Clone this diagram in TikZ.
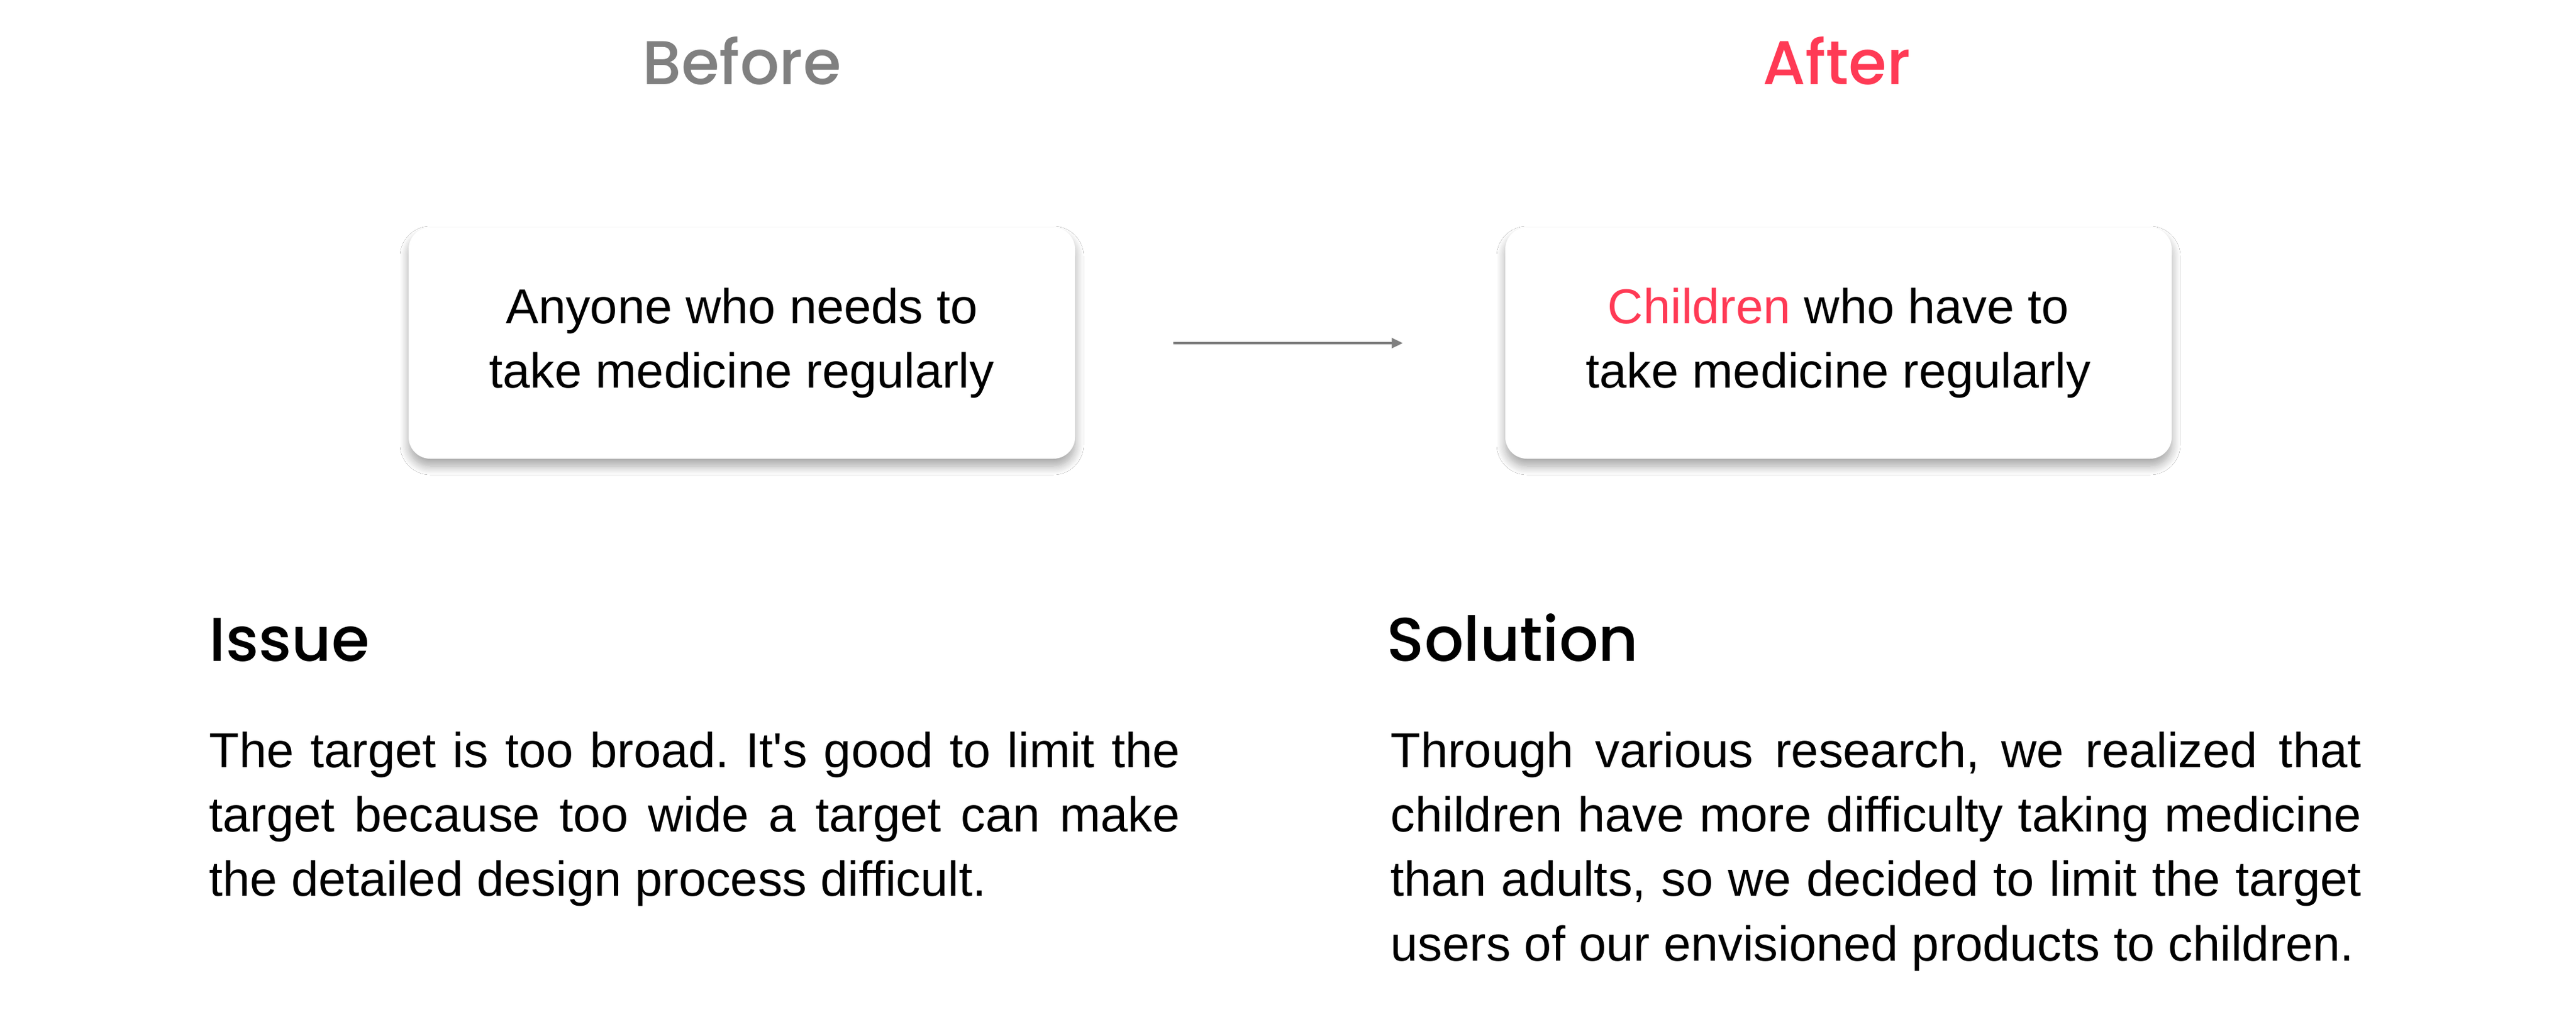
\documentclass[tikz,border=0pt]{standalone}
\usepackage{fontspec}
\setmainfont{Liberation Sans}
\newfontfamily\headfont{Poppins Medium}
\usepackage{xcolor}
\usepackage{tikz}
\usetikzlibrary{arrows.meta}
\usetikzlibrary{shadows.blur}

\definecolor{afterred}{HTML}{FF3A55}
\definecolor{softgray}{HTML}{808080}
\newcommand{\bodysize}{\fontsize{22.6}{29.7}\selectfont}
\frenchspacing

\begin{document}
\begin{tikzpicture}[color=black,
		card/.style={fill=white, rounded corners=0.35cm, minimum width=10.78cm, minimum height=3.74cm,
			align=center, font=\bodysize,
			blur shadow={shadow xshift=0cm, shadow yshift=-0.12cm, shadow blur radius=0.14cm, shadow blur steps=12, shadow opacity=35}},
		head/.style={inner sep=0pt, font=\headfont\fontsize{28.4}{34}\selectfont},
		para/.style={anchor=base west, inner sep=0pt, text width=15.7cm, align=justify, font=\bodysize}]
		\fill[white] (0,0) rectangle (41.67,-16.37);
		\useasboundingbox (0,0) rectangle (41.67,-16.37);
		
		\node[head, anchor=base, text=softgray] (before) at (12.00,-1.37) {Before};
		\node[head, anchor=base, text=afterred] (after) at (29.71,-1.37) {After};
		
		\node[card] (anyone) at (12.00,-5.55) {Anyone who needs to\\take medicine regularly};
		\node[card] (children) at (29.74,-5.55) {{\color{afterred}Children} who have to\\take medicine regularly};
		
		\draw[softgray, line width=0.04cm, -{Triangle[length=0.18cm, width=0.16cm]},
			shorten <=1.58cm, shorten >=1.65cm] (anyone) -- (children);
		
		\node[head, anchor=base west] (issue) at (3.38,-10.69) {Issue};
		\node[head, anchor=base west] (solution) at (22.43,-10.69) {Solution};
		
		\node[para] (issuetext) at (3.38,-12.41) {The target is too broad. It\textquotesingle s good to limit the\linebreak
			target because too wide a target can make\linebreak
			the detailed design process difficult.};
		\node[para] (solutiontext) at (22.49,-12.41) {Through various research, we realized that\linebreak
			children have more difficulty taking medicine\linebreak
			than adults, so we decided to limit the target\linebreak
			users of our envisioned products to children.};
	\end{tikzpicture}
\end{document}
